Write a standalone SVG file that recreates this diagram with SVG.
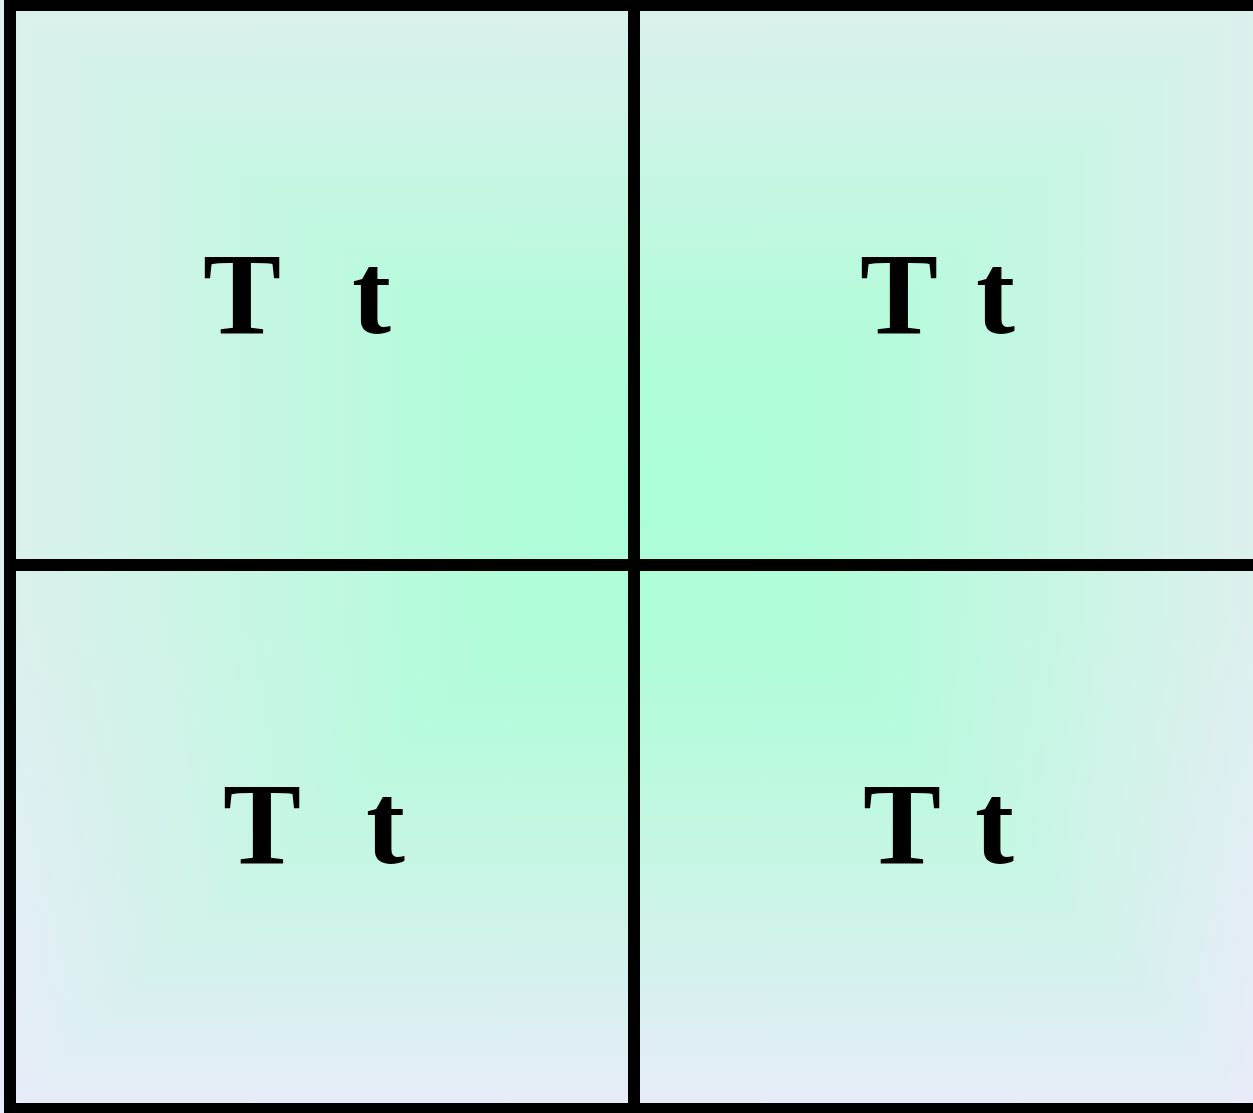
<svg xmlns="http://www.w3.org/2000/svg" width="1253" height="1113" viewBox="0 0 1253 1113">
<style>
.grid{stroke:#000;stroke-width:12;fill:none}
.g0{stop-color:#abfed6;stop-opacity:1}
.g1{stop-color:#abfed6;stop-opacity:0.9}
.g2{stop-color:#abfed6;stop-opacity:0.62}
.g3{stop-color:#abfed6;stop-opacity:0.3}
.g4{stop-color:#abfed6;stop-opacity:0}
</style>
<defs>
<linearGradient id="base" x1="0" y1="0" x2="0" y2="1113" gradientUnits="userSpaceOnUse">
<stop offset="0" stop-color="#dcf0ee"/>
<stop offset="0.55" stop-color="#dcf0ee"/>
<stop offset="1" stop-color="#e8ebf9"/>
</linearGradient>
<linearGradient id="gT" x1="0" y1="490" x2="0" y2="0" gradientUnits="userSpaceOnUse">
<stop offset="0" class="g0"/><stop offset="0.25" class="g1"/><stop offset="0.5" class="g2"/><stop offset="0.75" class="g3"/><stop offset="1" class="g4"/>
</linearGradient>
<linearGradient id="gB" x1="0" y1="490" x2="0" y2="1113" gradientUnits="userSpaceOnUse">
<stop offset="0" class="g0"/><stop offset="0.25" class="g1"/><stop offset="0.5" class="g2"/><stop offset="0.75" class="g3"/><stop offset="1" class="g4"/>
</linearGradient>
<linearGradient id="gL" x1="680" y1="0" x2="0" y2="0" gradientUnits="userSpaceOnUse">
<stop offset="0" class="g0"/><stop offset="0.25" class="g1"/><stop offset="0.5" class="g2"/><stop offset="0.75" class="g3"/><stop offset="1" class="g4"/>
</linearGradient>
<linearGradient id="gR" x1="680" y1="0" x2="1253" y2="0" gradientUnits="userSpaceOnUse">
<stop offset="0" class="g0"/><stop offset="0.25" class="g1"/><stop offset="0.5" class="g2"/><stop offset="0.75" class="g3"/><stop offset="1" class="g4"/>
</linearGradient>
</defs>
<g id="background">
<rect x="0" y="0" width="1253" height="1113" fill="url(#base)"/>
<polygon points="0,0 1253,0 680,490" fill="url(#gT)"/>
<polygon points="0,1113 1253,1113 680,490" fill="url(#gB)"/>
<polygon points="0,0 0,1113 680,490" fill="url(#gL)"/>
<polygon points="1253,0 1253,1113 680,490" fill="url(#gR)"/>
</g>
<g font-family="Liberation Serif" font-weight="bold" font-size="117" fill="#000">
<g id="cell-top-left">
<text xml:space="preserve" x="203" y="333">T  <tspan x="352">t</tspan></text>
</g>
<g id="cell-top-right">
<text xml:space="preserve" x="860" y="333">T <tspan x="976">t</tspan></text>
</g>
<g id="cell-bottom-left">
<text xml:space="preserve" x="223" y="863">T  <tspan x="366">t</tspan></text>
</g>
<g id="cell-bottom-right">
<text xml:space="preserve" x="863" y="863">T <tspan x="975">t</tspan></text>
</g>
</g>
<g id="connectors" class="grid">
<line x1="4" y1="5" x2="1260" y2="5"/>
<line x1="10" y1="-2" x2="10" y2="1115"/>
<line x1="4" y1="1109" x2="1260" y2="1109"/>
<line x1="634" y1="0" x2="634" y2="1113"/>
<line x1="10" y1="565" x2="1260" y2="565"/>
</g>
</svg>
